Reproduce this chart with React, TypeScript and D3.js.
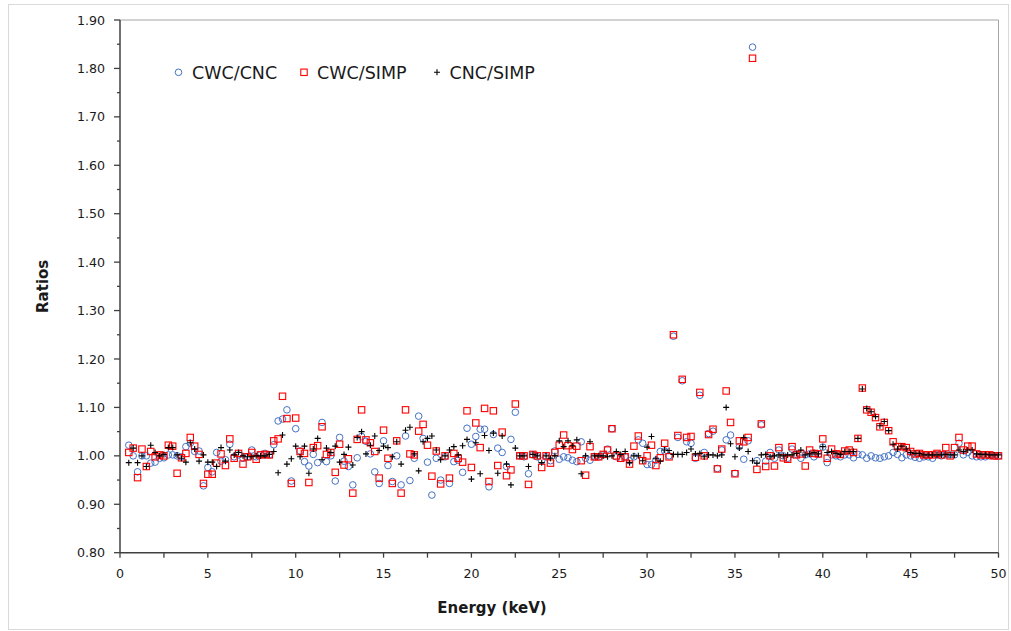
import React from "react";
import * as d3 from "d3";

// Energy grid (keV): first bin and bin width
const ENERGY_START = 0.5;
const ENERGY_STEP = 0.25;

// CWC/CNC ratios (0.5, 0.75, then 4 per keV from 1 to 49.75, then 50)
const cwcCnc = [
  1.022, 1.0,
  0.967, 1.0, 1.0, 0.985,
  0.987, 0.995, 0.996, 1.002,
  1.002, 1.0, 0.998, 1.019,
  1.026, 1.009, 1.01, 0.938,
  0.976, 0.967, 1.007, 0.989,
  0.992, 1.024, 0.998, 1.002,
  0.995, 0.998, 1.012, 0.998,
  1.002, 1.005, 1.002, 1.023,
  1.072, 1.076, 1.095, 0.948,
  1.056, 1.01, 0.988, 0.979,
  1.003, 0.986, 1.069, 0.988,
  1.0, 0.948, 1.038, 0.989,
  0.978, 0.94, 0.996, 1.04,
  1.03, 1.004, 0.967, 0.943,
  1.031, 0.98, 0.947, 1.0,
  0.94, 1.041, 0.949, 0.995,
  1.082, 1.036, 0.987, 0.919,
  0.995, 0.95, 0.998, 0.943,
  0.988, 0.991, 0.966, 1.057,
  1.024, 1.04, 1.055, 1.055,
  0.936, 1.044, 1.016, 1.007,
  0.978, 1.034, 1.09, 1.0,
  0.998, 0.963, 1.002, 0.998,
  0.99, 0.998, 0.99, 1.01,
  0.993, 0.998, 0.996, 0.991,
  0.988, 1.029, 0.995, 0.991,
  0.998, 0.998, 1.002, 1.014,
  1.056, 0.998, 0.995, 0.998,
  0.99, 0.998, 1.033, 1.026,
  0.982, 0.982, 0.991, 1.009,
  1.01, 1.0, 1.247, 1.038,
  1.155, 1.029, 1.026, 0.995,
  1.125, 1.007, 1.046, 1.051,
  0.974, 1.012, 1.033, 1.043,
  0.964, 1.019, 0.993, 1.031,
  1.844, 0.99, 1.064, 0.989,
  1.007, 0.995, 1.012, 1.0,
  0.995, 1.014, 1.003, 0.995,
  1.002, 1.004, 0.998, 1.003,
  1.018, 0.986, 1.002, 1.0,
  0.998, 1.002, 1.002, 0.996,
  1.003, 1.002, 0.995, 1.0,
  0.996, 0.995, 0.998, 1.0,
  1.007, 1.003, 0.996, 1.002,
  1.0, 0.997, 0.995, 0.998,
  0.998, 0.995, 1.002, 1.0,
  1.002, 1.002, 1.002, 1.026,
  1.002, 1.007, 1.0, 0.998,
  0.998, 0.998, 1.0, 1.0,
  1.0,
];

// CWC/SIMP ratios
const cwcSimp = [
  1.007, 1.016,
  0.955, 1.014, 0.978, 1.009,
  0.998, 1.002, 1.0, 1.022,
  1.02, 0.964, 0.996, 1.005,
  1.038, 1.02, 1.003, 0.943,
  0.962, 0.962, 0.985, 1.004,
  0.98, 1.035, 0.995, 1.005,
  0.983, 0.998, 1.007, 0.993,
  1.002, 1.003, 1.002, 1.031,
  1.035, 1.123, 1.077, 0.943,
  1.078, 1.009, 1.005, 0.945,
  1.017, 1.021, 1.06, 1.003,
  1.007, 0.966, 1.024, 0.981,
  0.994, 0.923, 1.034, 1.095,
  1.033, 1.027, 1.009, 0.954,
  1.053, 0.995, 0.943, 1.031,
  0.923, 1.095, 1.004, 1.002,
  1.051, 1.065, 1.022, 0.958,
  1.01, 0.942, 1.0, 0.954,
  1.005, 0.995, 0.987, 1.093,
  0.976, 1.068, 1.017, 1.098,
  0.947, 1.093, 0.98, 1.049,
  0.959, 0.971, 1.107, 1.0,
  1.0, 0.941, 1.003, 1.0,
  0.976, 1.0, 0.985, 1.007,
  1.022, 1.043, 1.021, 1.013,
  1.02, 0.99, 0.96, 1.019,
  0.998, 0.998, 1.003, 1.012,
  1.056, 1.0, 0.995, 0.998,
  0.983, 1.02, 1.041, 0.99,
  1.0, 1.022, 0.98, 0.996,
  1.026, 0.998, 1.25, 1.042,
  1.158, 1.038, 1.04, 0.997,
  1.131, 1.0, 1.044, 1.055,
  0.973, 1.014, 1.134, 1.069,
  0.963, 1.031, 1.029, 1.038,
  1.821, 0.972, 1.066, 0.978,
  1.0, 0.979, 1.017, 0.996,
  0.993, 1.019, 1.002, 1.004,
  0.979, 1.012, 1.005, 1.004,
  1.035, 0.995, 1.014, 1.004,
  1.003, 1.01, 1.012, 1.007,
  1.036, 1.14, 1.095, 1.09,
  1.079, 1.06, 1.069, 1.052,
  1.029, 1.019, 1.019, 1.017,
  1.009, 1.004, 1.005, 1.002,
  1.002, 1.002, 1.005, 1.002,
  1.017, 1.0, 1.017, 1.038,
  1.012, 1.02, 1.02, 1.004,
  1.002, 1.002, 1.002, 1.0,
  1.0,
];

// CNC/SIMP ratios
const cncSimp = [
  0.986, 1.016,
  0.986, 1.0, 0.978, 1.022,
  1.007, 1.0, 1.003, 1.017,
  1.017, 1.002, 0.995, 0.987,
  1.027, 1.014, 0.989, 1.002,
  0.987, 0.987, 0.978, 1.017,
  0.989, 1.012, 1.002, 1.007,
  1.0, 0.998, 0.998, 1.0,
  1.0, 1.0, 1.003, 1.009,
  0.965, 1.043, 0.983, 0.994,
  1.02, 0.998, 1.02, 0.964,
  1.014, 1.036, 0.992, 1.016,
  1.007, 1.02, 0.987, 1.003,
  1.018, 0.981, 1.038, 1.05,
  1.004, 1.022, 1.041, 1.011,
  1.02, 1.017, 0.998, 1.029,
  0.983, 1.053, 1.059, 1.004,
  0.969, 1.029, 1.036, 1.041,
  1.012, 0.992, 1.0, 1.012,
  1.019, 1.002, 1.021, 1.034,
  0.952, 1.027, 0.963, 1.042,
  1.011, 1.047, 0.964, 1.041,
  0.983, 0.94, 1.016, 1.0,
  1.0, 0.978, 1.003, 1.0,
  0.986, 1.0, 0.995, 1.0,
  1.031, 1.019, 1.031, 1.021,
  1.033, 0.963, 1.0, 1.029,
  1.0, 1.0, 1.0, 0.998,
  1.0, 1.009, 1.003, 1.009,
  0.986, 1.0, 1.0, 0.99,
  1.018, 1.04, 0.994, 0.989,
  1.012, 1.011, 1.003, 1.003,
  1.003, 1.007, 1.014, 1.004,
  1.005, 0.998, 1.002, 1.002,
  1.0, 1.002, 1.1, 1.025,
  0.998, 1.016, 1.038, 1.009,
  0.99, 0.985, 1.002, 1.003,
  0.998, 1.0, 1.002, 1.0,
  1.002, 1.002, 1.005, 1.012,
  1.002, 1.004, 1.007, 1.004,
  1.019, 1.007, 1.009, 1.005,
  1.003, 1.009, 1.009, 1.009,
  1.036, 1.138, 1.098, 1.091,
  1.081, 1.062, 1.071, 1.052,
  1.024, 1.014, 1.02, 1.014,
  1.007, 1.005, 1.005, 1.002,
  1.002, 1.002, 1.002, 1.002,
  1.003, 1.002, 1.002, 1.012,
  1.009, 1.012, 1.012, 1.004,
  1.003, 1.003, 1.002, 1.002,
  1.002,
];

const seriesNames = ["CWC/CNC", "CWC/SIMP", "CNC/SIMP"];
const xTickValues = [0, 5, 10, 15, 20, 25, 30, 35, 40, 45, 50];
const yTickValues = [0.8, 0.9, 1.0, 1.1, 1.2, 1.3, 1.4, 1.5, 1.6, 1.7, 1.8, 1.9];

const W = 1011;
const H = 631;
const M = { left: 120, right: 998.5, top: 20, bottom: 552.7 };
const FONT = "'DejaVu Sans', Verdana, sans-serif";
const BLUE = "#4472C4";
const RED = "#FF0000";
const TEXT = "#1a1a1a";

function Circle({ x, y }: { x: number; y: number }) {
  return <circle cx={x} cy={y} r={3.3} fill="none" stroke={BLUE} strokeWidth={1} />;
}
function Square({ x, y }: { x: number; y: number }) {
  return (
    <rect x={x - 3.2} y={y - 3.2} width={6.4} height={6.4} fill="none" stroke={RED} strokeWidth={1.1} />
  );
}
function Plus({ x, y }: { x: number; y: number }) {
  return (
    <path d={`M${x - 3},${y}H${x + 3}M${x},${y - 3}V${y + 3}`} stroke="#000" strokeWidth={1.1} fill="none" />
  );
}

export default function App() {
  const x = d3.scaleLinear().domain([0, 50]).range([M.left, M.right]);
  const y = d3.scaleLinear().domain([0.8, 1.9]).range([M.bottom, M.top]);
  const n = Math.min(cwcCnc.length, cwcSimp.length, cncSimp.length);
  const energy = d3.range(n).map((i) => ENERGY_START + i * ENERGY_STEP);

  const xMinor = d3.range(0, 50.01, 2.5);
  const yMinor = d3.range(0.8, 1.9001, 0.05);

  return (
    <div style={{ position: "absolute", left: 0, top: 0 }}>
      <svg width={W} height={H} style={{ display: "block" }}>
        <rect x={0} y={0} width={W} height={H} fill="#fff" />
        <rect x={8.5} y={4.5} width={1000} height={625} fill="none" stroke="#d9d9d9" strokeWidth={1} />

        {/* plot area border (top, right) */}
        <line x1={M.left} x2={M.right} y1={M.top} y2={M.top} stroke="#a6a6a6" strokeWidth={1} />
        <line x1={M.right} x2={M.right} y1={M.top} y2={M.bottom} stroke="#a6a6a6" strokeWidth={1} />

        {/* y ticks */}
        {yMinor.map((v, i) => (
          <line key={"ym" + i} x1={M.left - (i % 2 === 0 ? 6 : 3)} x2={M.left} y1={y(v)} y2={y(v)} stroke="#404040" strokeWidth={1.3} />
        ))}
        {yTickValues.map((v) => (
          <text key={"yl" + v} x={105} y={y(v)} dy="0.36em" textAnchor="end" fontFamily={FONT} fontSize={12.6} fill={TEXT}>
            {v.toFixed(2)}
          </text>
        ))}

        {/* x ticks */}
        {xMinor.map((v, i) => (
          <line key={"xm" + i} x1={x(v)} x2={x(v)} y1={M.bottom} y2={M.bottom + 5} stroke="#404040" strokeWidth={1.3} />
        ))}
        {xTickValues.map((v) => (
          <text key={"xl" + v} x={x(v)} y={578} textAnchor="middle" fontFamily={FONT} fontSize={12.6} fill={TEXT}>
            {v}
          </text>
        ))}

        {/* axes lines */}
        <line x1={M.left} x2={M.left} y1={M.top} y2={M.bottom} stroke="#404040" strokeWidth={1.5} />
        <line x1={M.left} x2={M.right} y1={M.bottom} y2={M.bottom} stroke="#404040" strokeWidth={1.5} />

        {/* series */}
        <g>
          {energy.map((e, i) => (
            <Circle key={"a" + i} x={x(e)} y={y(cwcCnc[i])} />
          ))}
        </g>
        <g>
          {energy.map((e, i) => (
            <Square key={"b" + i} x={x(e)} y={y(cwcSimp[i])} />
          ))}
        </g>
        <g>
          {energy.map((e, i) => (
            <Plus key={"c" + i} x={x(e)} y={y(cncSimp[i])} />
          ))}
        </g>

        {/* axis titles */}
        <text x={492} y={613} textAnchor="middle" fontFamily={FONT} fontWeight="bold" fontSize={15} fill={TEXT}>
          Energy (keV)
        </text>
        <text
          transform={`translate(48,${(M.top + M.bottom) / 2}) rotate(-90)`}
          textAnchor="middle"
          fontFamily={FONT}
          fontWeight="bold"
          fontSize={15}
          fill={TEXT}
        >
          Ratios
        </text>

        {/* legend */}
        <g fontFamily={FONT} fontSize={17.5} fill={TEXT}>
          <Circle x={178.5} y={72.3} />
          <text x={192} y={78.5}>{seriesNames[0]}</text>
          <Square x={304} y={72.3} />
          <text x={317} y={78.5}>{seriesNames[1]}</text>
          <Plus x={437} y={72.3} />
          <text x={449.5} y={78.5}>{seriesNames[2]}</text>
        </g>
      </svg>
    </div>
  );
}
